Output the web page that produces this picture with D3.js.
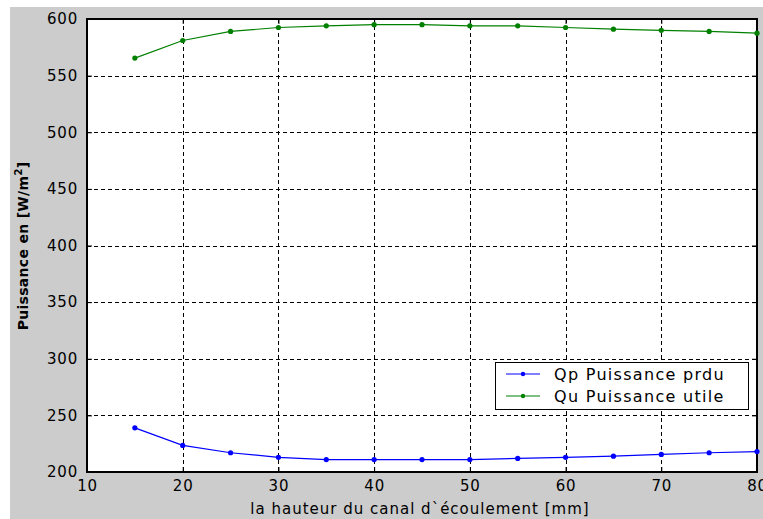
<!DOCTYPE html>
<html>
<head>
<meta charset="utf-8">
<script src="https://cdn.jsdelivr.net/npm/d3@7"></script>
<style>
  html, body { margin: 0; padding: 0; background: #ffffff; }
  svg { display: block; }
  text { font-family: "DejaVu Sans", Verdana, sans-serif; fill: #000; }
</style>
</head>
<body>
<svg id="chart" width="763" height="519"></svg>
<script>
// Channel height [mm]
const heights = [15, 20, 25, 30, 35, 40, 45, 50, 55, 60, 65, 70, 75, 80];
// Qp: lost power [W/m²]
const qpLost = [239, 223.5, 217, 213, 211, 211, 211, 211, 212, 213, 214, 215.5, 217, 218];
// Qu: useful power [W/m²]
const quUseful = [565.5, 581, 589, 592.5, 594, 595, 595, 594, 594, 592.5, 591, 590, 589, 587.5];

const xTicks = [10, 20, 30, 40, 50, 60, 70, 80];
const yTicks = [200, 250, 300, 350, 400, 450, 500, 550, 600];

const seriesNames = ["Qp Puissance prdu", "Qu Puissance utile"];
const seriesColors = ["#0000ff", "#008000"];

const svg = d3.select("#chart");
const W = 763, H = 519;
const plot = { left: 87, top: 19, right: 757, bottom: 472 };
const FONT = "DejaVu Sans, Verdana, sans-serif";

// grey figure background
svg.append("rect").attr("x", 10).attr("y", 7).attr("width", W - 10).attr("height", H - 7)
  .attr("fill", "#cccccc");

const x = d3.scaleLinear().domain([10, 80]).range([plot.left, plot.right]);
const y = d3.scaleLinear().domain([200, 600]).range([plot.bottom, plot.top]);

// plotting area
svg.append("rect").attr("x", plot.left).attr("y", plot.top)
  .attr("width", plot.right - plot.left).attr("height", plot.bottom - plot.top)
  .attr("fill", "#ffffff");

// dashed grid
const grid = svg.append("g").attr("stroke", "#000").attr("stroke-width", 1)
  .attr("stroke-dasharray", "4,3").attr("shape-rendering", "crispEdges");
grid.selectAll("line.gx").data(xTicks.slice(1, -1)).join("line")
  .attr("x1", d => Math.round(x(d)) + 0.5).attr("x2", d => Math.round(x(d)) + 0.5)
  .attr("y1", plot.top).attr("y2", plot.bottom);
grid.selectAll("line.gy").data(yTicks.slice(1, -1)).join("line")
  .attr("y1", d => Math.round(y(d)) + 0.5).attr("y2", d => Math.round(y(d)) + 0.5)
  .attr("x1", plot.left).attr("x2", plot.right);

// axes
const xAxis = svg.append("g").attr("transform", `translate(0,${plot.bottom})`)
  .call(d3.axisBottom(x).tickValues(xTicks).tickSize(-5).tickPadding(8).tickFormat(d3.format("d")));
const yAxis = svg.append("g").attr("transform", `translate(${plot.left},0)`)
  .call(d3.axisLeft(y).tickValues(yTicks).tickSize(-5).tickPadding(9).tickFormat(d3.format("d")));
[xAxis, yAxis].forEach(a => {
  a.select(".domain").remove();
  a.selectAll(".tick line").attr("stroke", "#000");
  a.selectAll(".tick text").attr("font-size", 15).attr("font-family", FONT)
    .attr("letter-spacing", 0.8).attr("fill", "#111");
});
xAxis.selectAll(".tick text").attr("dy", "0.71em");
// mirrored ticks on top and right
svg.append("g").attr("transform", `translate(0,${plot.top})`)
  .call(d3.axisTop(x).tickValues(xTicks).tickSize(-5).tickFormat(""))
  .call(g => g.select(".domain").remove());
svg.append("g").attr("transform", `translate(${plot.right},0)`)
  .call(d3.axisRight(y).tickValues(yTicks).tickSize(-5).tickFormat(""))
  .call(g => g.select(".domain").remove());

// frame
svg.append("rect").attr("x", plot.left).attr("y", plot.top)
  .attr("width", plot.right - plot.left).attr("height", plot.bottom - plot.top)
  .attr("fill", "none").attr("stroke", "#000").attr("stroke-width", 2);

// series
const series = [qpLost, quUseful];
const line = d3.line().x((d, i) => x(heights[i])).y(d => y(d));
series.forEach((vals, k) => {
  svg.append("path").datum(vals).attr("d", line)
    .attr("fill", "none").attr("stroke", seriesColors[k]).attr("stroke-width", 1.2);
  svg.append("g").selectAll("circle").data(vals).join("circle")
    .attr("cx", (d, i) => x(heights[i])).attr("cy", d => y(d)).attr("r", 2.6)
    .attr("fill", seriesColors[k]);
});

// legend
const lg = svg.append("g");
lg.append("rect").attr("x", 495.5).attr("y", 362.5).attr("width", 253).attr("height", 47)
  .attr("fill", "#ffffff").attr("stroke", "#000").attr("stroke-width", 1);
seriesNames.forEach((name, k) => {
  const ly = 374 + k * 22;
  lg.append("line").attr("x1", 506).attr("x2", 540).attr("y1", ly).attr("y2", ly)
    .attr("stroke", seriesColors[k]).attr("stroke-width", 1.2);
  lg.append("circle").attr("cx", 523).attr("cy", ly).attr("r", 2.2).attr("fill", seriesColors[k]);
  lg.append("text").attr("x", 554).attr("y", ly).attr("dy", "0.36em")
    .attr("font-size", 16).attr("letter-spacing", 1.3).attr("fill", "#111").text(name);
});

// axis titles
svg.append("text").attr("x", 420).attr("y", 514).attr("text-anchor", "middle")
  .attr("font-size", 15).attr("letter-spacing", 1.0).attr("fill", "#111")
  .text("la hauteur du canal d`écoulement [mm]");
const yl = svg.append("text").attr("transform", "translate(28,246) rotate(-90)")
  .attr("text-anchor", "middle").attr("font-size", 14).attr("font-weight", "bold")
  .attr("letter-spacing", 0.3);
yl.append("tspan").text("Puissance en [W/m");
yl.append("tspan").attr("dy", -6).attr("font-size", 10).text("2");
yl.append("tspan").attr("dy", 6).text("]");
</script>
</body>
</html>
